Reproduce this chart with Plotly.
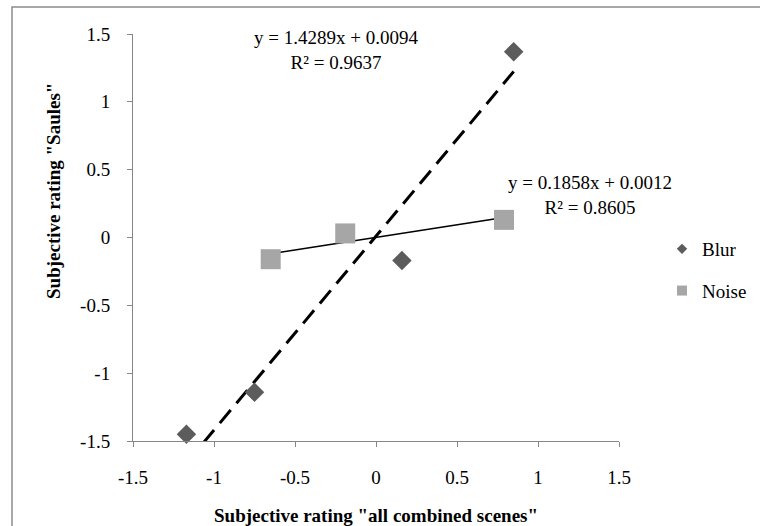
import plotly.graph_objects as go

# ---- data ----
blur_x = [0.85, -0.75, -1.17, 0.16]
blur_y = [1.37, -1.14, -1.45, -0.17]
noise_x = [-0.65, -0.19, 0.79]
noise_y = [-0.16, 0.03, 0.13]

blur_slope, blur_intercept, blur_r2 = 1.4289, 0.0094, 0.9637
noise_slope, noise_intercept, noise_r2 = 0.1858, 0.0012, 0.8605

tick_vals = [-1.5, -1, -0.5, 0, 0.5, 1, 1.5]
tick_text = ["-1.5", "-1", "-0.5", "0", "0.5", "1", "1.5"]

x_title = 'Subjective rating "all combined scenes"'
y_title = 'Subjective rating "Saules"'

FONT = "Liberation Serif"
FS = 19
BLUR_COLOR = "#5c5c5c"
NOISE_COLOR = "#a6a6a6"
AXIS_COLOR = "#868686"

def trend(xs, m, b):
    x0, x1 = min(xs), max(xs)
    return [x0, x1], [m * x0 + b, m * x1 + b]

fig = go.Figure()

# trendlines
tx, ty = trend(blur_x, blur_slope, blur_intercept)
fig.add_trace(go.Scatter(x=tx, y=ty, mode="lines", showlegend=False,
                         line=dict(color="black", width=3, dash="17px,9px"),
                         hoverinfo="skip"))
tx, ty = trend(noise_x, noise_slope, noise_intercept)
fig.add_trace(go.Scatter(x=tx, y=ty, mode="lines", showlegend=False,
                         line=dict(color="black", width=1.5),
                         hoverinfo="skip"))

# data points
fig.add_trace(go.Scatter(x=blur_x, y=blur_y, mode="markers", name="Blur",
                         showlegend=False, cliponaxis=False,
                         marker=dict(symbol="diamond", size=15, color=BLUR_COLOR,
                                     line=dict(width=0))))
fig.add_trace(go.Scatter(x=noise_x, y=noise_y, mode="markers", name="Noise",
                         showlegend=False, cliponaxis=False,
                         marker=dict(symbol="square", size=20, color=NOISE_COLOR,
                                     line=dict(width=0))))

# legend entries (smaller symbols as in the reference)
fig.add_trace(go.Scatter(x=[None], y=[None], mode="markers", name="Blur",
                         legendgroup="b",
                         marker=dict(symbol="diamond", size=8, color=BLUR_COLOR)))
fig.add_trace(go.Scatter(x=[None], y=[None], mode="markers", name="Noise",
                         legendgroup="n",
                         marker=dict(symbol="square", size=10, color=NOISE_COLOR)))

def px_to_paper(px, py):
    return (px - 133) / 486, (441 - py) / 407

ann_font = dict(family=FONT, size=FS, color="black")
for (cx, cy, l1, l2) in [
    (336, 50, f"y = {blur_slope:.4f}x + {blur_intercept:.4f}", f"R² = {blur_r2:.4f}"),
    (590, 195, f"y = {noise_slope:.4f}x + {noise_intercept:.4f}", f"R² = {noise_r2:.4f}"),
]:
    ax, ay = px_to_paper(cx, cy)
    fig.add_annotation(x=ax, y=ay, xref="paper", yref="paper", text=l1 + "<br>" + l2,
                       showarrow=False, font=ann_font, xanchor="center",
                       yanchor="middle", align="center")

# axis titles
title_font = dict(family=FONT, size=FS, color="black", weight="bold")
ax, ay = px_to_paper(376, 515)
fig.add_annotation(x=ax, y=ay, xref="paper", yref="paper", text=x_title,
                   showarrow=False, font=title_font, xanchor="center", yanchor="middle")
ax, ay = px_to_paper(53, 191)
fig.add_annotation(x=ax, y=ay, xref="paper", yref="paper", text=y_title,
                   showarrow=False, font=title_font, textangle=-90,
                   xanchor="center", yanchor="middle")

# outer chart border (top and left edges visible)
bx0, by0 = px_to_paper(12, 7)
bx1, by1 = px_to_paper(770, 535)
fig.add_shape(type="rect", xref="paper", yref="paper", x0=bx0, y0=by1, x1=bx1, y1=by0,
              line=dict(color="#8c8c8c", width=1.5), fillcolor="rgba(0,0,0,0)",
              layer="below")

axis_common = dict(
    range=[-1.5, 1.5], tickvals=tick_vals, ticktext=tick_text,
    showgrid=False, zeroline=False, showline=True, linecolor=AXIS_COLOR,
    linewidth=1, ticks="outside", ticklen=5, tickcolor=AXIS_COLOR,
    tickfont=dict(family=FONT, size=FS, color="black"),
)

fig.update_xaxes(**axis_common, ticklabelstandoff=14)
fig.update_yaxes(**axis_common, ticklabelstandoff=13)

lx, ly = px_to_paper(662, 230)
fig.update_layout(
    width=760, height=526,
    margin=dict(l=133, r=141, t=34, b=85, autoexpand=False),
    paper_bgcolor="white", plot_bgcolor="white",
    font=dict(family=FONT, size=FS, color="black"),
    showlegend=True,
    legend=dict(x=lx, y=ly, xanchor="left", yanchor="top",
                font=dict(family=FONT, size=FS, color="black"),
                tracegroupgap=14, itemwidth=30, bgcolor="rgba(0,0,0,0)"),
)

fig.write_html("out.html", config={"displayModeBar": False},
               post_script="document.body.style.margin='0';document.body.style.overflow='hidden';")
